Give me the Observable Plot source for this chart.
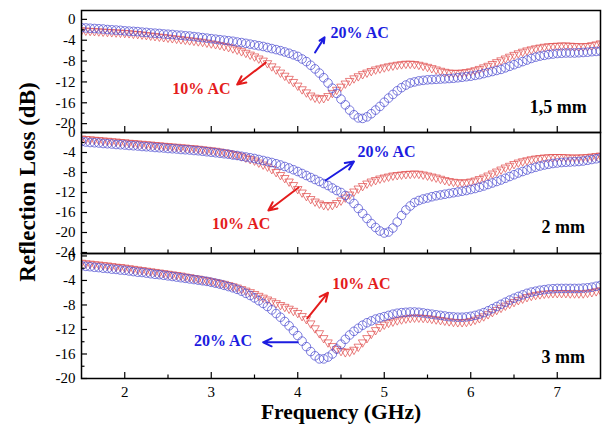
<!DOCTYPE html>
<html><head><meta charset="utf-8">
<script src="https://cdn.jsdelivr.net/npm/d3@7"></script>
<script src="https://cdn.jsdelivr.net/npm/@observablehq/plot@0.6"></script>
<style>
body{margin:0;background:#fff;}
#chart{position:relative;width:602px;height:435px;font-family:"Liberation Serif","Times New Roman",serif;}
#chart svg{position:absolute;left:0;overflow:visible;}
.ttl{position:absolute;font-weight:bold;font-size:21px;color:#000;white-space:nowrap;line-height:1;}
</style></head><body><div id="chart"></div>
<script>
// Frequency grid (GHz)
const freq = [
1.50,1.55,1.60,1.65,1.70,1.75,1.80,1.85,1.90,1.95,
2.00,2.05,2.10,2.15,2.20,2.25,2.30,2.35,2.40,2.45,
2.50,2.55,2.60,2.65,2.70,2.75,2.80,2.85,2.90,2.95,
3.00,3.05,3.10,3.15,3.20,3.25,3.30,3.35,3.40,3.45,
3.50,3.55,3.60,3.65,3.70,3.75,3.80,3.85,3.90,3.95,
4.00,4.05,4.10,4.15,4.20,4.25,4.30,4.35,4.40,4.45,
4.50,4.55,4.60,4.65,4.70,4.75,4.80,4.85,4.90,4.95,
5.00,5.05,5.10,5.15,5.20,5.25,5.30,5.35,5.40,5.45,
5.50,5.55,5.60,5.65,5.70,5.75,5.80,5.85,5.90,5.95,
6.00,6.05,6.10,6.15,6.20,6.25,6.30,6.35,6.40,6.45,
6.50,6.55,6.60,6.65,6.70,6.75,6.80,6.85,6.90,6.95,
7.00,7.05,7.10,7.15,7.20,7.25,7.30,7.35,7.40,7.45,
7.50];

// 1,5 mm
const rl15_20 = [
-1.6,-1.65,-1.7,-1.75,-1.8,-1.85,-1.95,-2.0,-2.05,-2.1,
-2.2,-2.25,-2.3,-2.35,-2.45,-2.5,-2.6,-2.65,-2.7,-2.8,
-2.85,-2.9,-3.0,-3.05,-3.15,-3.2,-3.3,-3.4,-3.5,-3.6,
-3.7,-3.8,-3.9,-4.0,-4.1,-4.2,-4.35,-4.45,-4.6,-4.75,
-4.9,-5.05,-5.2,-5.4,-5.6,-5.8,-6.0,-6.25,-6.5,-6.8,
-7.1,-7.6,-8.1,-8.8,-9.5,-10.3,-11.2,-12.2,-13.2,-14.2,
-15.3,-16.4,-17.4,-18.3,-18.9,-19.0,-18.7,-18.1,-17.4,-16.7,
-15.9,-15.1,-14.4,-13.7,-13.1,-12.6,-12.2,-12.0,-11.8,-11.7,
-11.6,-11.55,-11.5,-11.45,-11.4,-11.35,-11.3,-11.2,-11.1,-11.0,
-10.9,-10.75,-10.6,-10.4,-10.2,-10.0,-9.8,-9.6,-9.3,-9.0,
-8.7,-8.4,-8.1,-7.8,-7.5,-7.25,-7.05,-6.9,-6.75,-6.65,
-6.55,-6.5,-6.45,-6.45,-6.45,-6.4,-6.35,-6.3,-6.2,-6.15,
-6.1];
const rl15_10 = [
-2.1,-2.15,-2.2,-2.25,-2.3,-2.35,-2.4,-2.45,-2.5,-2.55,
-2.6,-2.65,-2.75,-2.8,-2.9,-3.0,-3.1,-3.2,-3.3,-3.4,
-3.5,-3.6,-3.7,-3.8,-3.9,-4.0,-4.1,-4.2,-4.3,-4.45,
-4.6,-4.75,-4.9,-5.1,-5.3,-5.55,-5.8,-6.1,-6.4,-6.75,
-7.1,-7.5,-7.9,-8.4,-9.0,-9.6,-10.2,-10.8,-11.4,-12.0,
-12.7,-13.4,-14.0,-14.6,-15.0,-15.2,-15.1,-14.7,-14.1,-13.5,
-12.9,-12.3,-11.8,-11.3,-10.9,-10.5,-10.2,-9.9,-9.6,-9.4,
-9.2,-9.0,-8.85,-8.7,-8.6,-8.5,-8.5,-8.55,-8.7,-8.9,
-9.1,-9.35,-9.6,-9.85,-10.05,-10.2,-10.25,-10.25,-10.2,-10.1,
-9.95,-9.75,-9.5,-9.2,-8.9,-8.55,-8.2,-7.85,-7.5,-7.15,
-6.8,-6.5,-6.2,-5.95,-5.75,-5.55,-5.4,-5.25,-5.15,-5.1,
-5.05,-5.0,-5.0,-5.05,-5.1,-5.15,-5.15,-5.1,-4.95,-4.8,
-4.6];

// 2 mm
const rl2_20 = [
-1.8,-1.9,-2.0,-2.05,-2.1,-2.2,-2.25,-2.3,-2.4,-2.45,
-2.5,-2.6,-2.65,-2.7,-2.8,-2.85,-2.9,-3.0,-3.05,-3.1,
-3.2,-3.25,-3.3,-3.4,-3.45,-3.5,-3.6,-3.65,-3.75,-3.85,
-3.95,-4.05,-4.15,-4.25,-4.35,-4.5,-4.6,-4.75,-4.9,-5.05,
-5.2,-5.4,-5.6,-5.8,-6.0,-6.25,-6.5,-6.8,-7.1,-7.45,
-7.8,-8.2,-8.6,-9.0,-9.4,-9.8,-10.2,-10.6,-11.1,-11.6,
-12.0,-12.6,-13.3,-14.2,-15.2,-16.2,-17.2,-18.2,-19.0,-19.7,
-20.1,-19.9,-19.1,-17.9,-16.6,-15.5,-14.7,-14.0,-13.6,-13.3,
-13.1,-12.85,-12.65,-12.5,-12.35,-12.2,-12.05,-11.9,-11.75,-11.6,
-11.4,-11.2,-10.95,-10.7,-10.4,-10.1,-9.8,-9.5,-9.15,-8.8,
-8.45,-8.1,-7.8,-7.5,-7.2,-6.95,-6.7,-6.5,-6.35,-6.2,
-6.1,-6.0,-5.95,-5.9,-5.85,-5.8,-5.7,-5.55,-5.4,-5.25,
-5.1];
const rl2_10 = [
-1.2,-1.3,-1.35,-1.45,-1.5,-1.6,-1.65,-1.75,-1.8,-1.9,
-1.95,-2.05,-2.1,-2.2,-2.25,-2.35,-2.4,-2.5,-2.55,-2.65,
-2.7,-2.8,-2.85,-2.95,-3.0,-3.1,-3.15,-3.25,-3.35,-3.45,
-3.55,-3.65,-3.8,-3.95,-4.1,-4.3,-4.5,-4.75,-5.0,-5.3,
-5.6,-6.0,-6.4,-6.8,-7.3,-7.9,-8.5,-9.1,-9.8,-10.5,
-11.3,-12.0,-12.7,-13.3,-13.8,-14.2,-14.5,-14.6,-14.5,-14.1,
-13.6,-13.0,-12.4,-11.8,-11.2,-10.7,-10.2,-9.8,-9.5,-9.2,
-9.0,-8.8,-8.6,-8.5,-8.4,-8.3,-8.25,-8.2,-8.25,-8.4,
-8.6,-8.8,-9.0,-9.25,-9.5,-9.7,-9.85,-9.95,-10.0,-9.95,
-9.8,-9.6,-9.3,-9.0,-8.6,-8.2,-7.8,-7.4,-7.0,-6.65,
-6.3,-6.0,-5.75,-5.55,-5.35,-5.2,-5.1,-5.0,-4.95,-4.9,
-4.9,-4.9,-4.95,-5.0,-5.0,-5.0,-4.95,-4.9,-4.8,-4.7,
-4.6];

// 3 mm
const rl3_20 = [
-1.6,-1.7,-1.75,-1.85,-1.9,-2.0,-2.05,-2.15,-2.2,-2.3,
-2.35,-2.45,-2.55,-2.65,-2.7,-2.8,-2.9,-3.0,-3.05,-3.15,
-3.25,-3.35,-3.45,-3.55,-3.65,-3.75,-3.85,-3.95,-4.05,-4.15,
-4.3,-4.45,-4.6,-4.8,-5.0,-5.2,-5.45,-5.75,-6.1,-6.45,
-6.85,-7.3,-7.75,-8.25,-8.8,-9.4,-10.0,-10.7,-11.4,-12.2,
-13.0,-13.9,-14.8,-15.6,-16.3,-16.8,-16.8,-16.5,-16.0,-15.2,
-14.4,-13.6,-12.9,-12.3,-11.8,-11.3,-10.9,-10.6,-10.3,-10.1,
-9.9,-9.7,-9.5,-9.35,-9.25,-9.2,-9.15,-9.15,-9.2,-9.3,
-9.4,-9.5,-9.6,-9.7,-9.8,-9.9,-9.95,-10.0,-10.0,-9.95,
-9.85,-9.7,-9.5,-9.25,-8.95,-8.6,-8.25,-7.9,-7.55,-7.2,
-6.9,-6.6,-6.35,-6.1,-5.9,-5.75,-5.6,-5.5,-5.4,-5.35,
-5.3,-5.3,-5.3,-5.3,-5.3,-5.3,-5.25,-5.2,-5.1,-4.95,
-4.8];
const rl3_10 = [
-1.1,-1.2,-1.25,-1.35,-1.4,-1.5,-1.55,-1.65,-1.75,-1.8,
-1.9,-2.0,-2.1,-2.2,-2.3,-2.4,-2.5,-2.6,-2.7,-2.8,
-2.9,-3.0,-3.1,-3.2,-3.35,-3.45,-3.6,-3.7,-3.85,-3.95,
-4.1,-4.25,-4.4,-4.55,-4.75,-4.95,-5.15,-5.4,-5.65,-5.9,
-6.2,-6.5,-6.8,-7.1,-7.4,-7.7,-8.0,-8.3,-8.6,-8.95,
-9.3,-9.8,-10.3,-11.0,-11.8,-12.6,-13.4,-14.1,-14.7,-15.2,
-15.5,-15.7,-15.6,-15.3,-14.8,-14.1,-13.4,-12.7,-12.1,-11.6,
-11.2,-10.9,-10.7,-10.5,-10.35,-10.2,-10.1,-10.05,-10.05,-10.1,
-10.15,-10.25,-10.35,-10.45,-10.55,-10.65,-10.75,-10.8,-10.8,-10.75,
-10.6,-10.4,-10.15,-9.85,-9.5,-9.15,-8.8,-8.45,-8.1,-7.8,
-7.5,-7.2,-6.95,-6.7,-6.5,-6.35,-6.25,-6.15,-6.1,-6.05,
-6.05,-6.05,-6.05,-6.1,-6.1,-6.1,-6.1,-6.0,-5.9,-5.75,
-5.6];

// Tick values
const xMajor = [2, 3, 4, 5, 6, 7];
const xMinor = [2.5, 3.5, 4.5, 5.5, 6.5];
const yMajor15 = [0, -4, -8, -12, -16, -20];
const yMinor15 = [-2, -6, -10, -14, -18];
const yMajor2 = [0, -4, -8, -12, -16, -20, -24];
const yMinor2 = [-2, -6, -10, -14, -18, -22];
const yMajor3 = [0, -4, -8, -12, -16, -20];
const yMinor3 = [-2, -6, -10, -14, -18];

// Annotations (data units): [panel 1,5 mm, 2 mm, 3 mm]
const thickLabels = ["1,5 mm", "2 mm", "3 mm"];
const thickX = [7.34, 7.32, 7.32];
const thickY = [-16.9, -19.0, -16.6];
const blueNoteX = [4.38, 4.69, 2.80];
const blueNoteY = [-2.5, -3.8, -13.8];
const redNoteX = [2.55, 3.01, 4.40];
const redNoteY = [-13.3, -18.2, -4.5];
const blueArrow = [[4.20, -6.35, 4.31, -3.46], [4.32, -9.6, 4.65, -5.8], [4.00, -14.1, 3.60, -14.1]];
const redArrow = [[3.63, -8.3, 3.30, -12.5], [4.01, -11.0, 3.66, -15.6], [4.11, -10.2, 4.35, -6.0]];

const BLUE_M = "#5050d2", RED_M = "#e04848";
const BLUE_T = "#1c1ce0", RED_T = "#e41c1c";

const triDown = {
  draw(ctx, size) {
    const a = Math.sqrt(size) * 1.2, h = a * Math.sqrt(3) / 2;
    ctx.moveTo(-a / 2, -h / 3);
    ctx.lineTo(a / 2, -h / 3);
    ctx.lineTo(0, 2 * h / 3);
    ctx.closePath();
  }
};

const panels = [
  {red: rl15_10, blue: rl15_20, dom: [-21.7, 1.7], maj: yMajor15, min: yMinor15, top: 0, height: 133, mt: 10, mb: 1},
  {red: rl2_10, blue: rl2_20, dom: [-24.2, 0], maj: yMajor2, min: yMinor2, top: 132, height: 122, mt: 0, mb: 1},
  {red: rl3_10, blue: rl3_20, dom: [-20, 0.4], maj: yMajor3, min: yMinor3, top: 253, height: 182, mt: 0, mb: 57}
];

const W = 602, ML = 81, MR = 2;
const chart = document.getElementById("chart");

panels.forEach((p, i) => {
  const innerH = p.height - p.mt - p.mb;
  const innerW = W - ML - MR;
  const redData = freq.map((f, k) => ({f, v: p.red[k]}));
  const blueData = freq.map((f, k) => ({f, v: p.blue[k]}));
  const arrows = [
    {x1: blueArrow[i][0], y1: blueArrow[i][1], x2: blueArrow[i][2], y2: blueArrow[i][3], c: BLUE_T},
    {x1: redArrow[i][0], y1: redArrow[i][1], x2: redArrow[i][2], y2: redArrow[i][3], c: RED_T}
  ];
  const notes = [
    {x: blueNoteX[i], y: blueNoteY[i], t: "20% AC", c: BLUE_T},
    {x: redNoteX[i], y: redNoteY[i], t: "10% AC", c: RED_T}
  ];
  const svg = Plot.plot({
    width: W,
    height: p.height,
    marginLeft: ML,
    marginRight: MR,
    marginTop: p.mt,
    marginBottom: p.mb,
    style: {fontFamily: "Liberation Serif, serif", fontSize: "15px", background: "transparent", overflow: "visible", color: "black"},
    x: {domain: [1.5, 7.5], axis: i === 2 ? "bottom" : null, ticks: xMajor, tickSize: 0, tickPadding: 8, tickFormat: d => String(d), label: null},
    y: {domain: p.dom, ticks: p.maj, tickSize: 0, tickPadding: 6, tickFormat: d => String(d), label: null},
    marks: [
      Plot.dot(redData, {x: "f", y: "v", symbol: triDown, r: 4, stroke: RED_M, strokeWidth: 0.7, fill: "none", clip: true}),
      Plot.dot(blueData, {x: "f", y: "v", symbol: "circle", r: 4.3, stroke: BLUE_M, strokeWidth: 0.75, fill: "none", clip: true}),
      Plot.tickX(xMajor, {x: d => d, insetTop: innerH - 6, stroke: "black", strokeWidth: 1.2}),
      Plot.tickX(xMinor, {x: d => d, insetTop: innerH - 3.5, stroke: "black", strokeWidth: 1.2}),
      Plot.tickY(p.maj, {y: d => d, insetRight: innerW - 6, stroke: "black", strokeWidth: 1.2}),
      Plot.tickY(p.min, {y: d => d, insetRight: innerW - 3.5, stroke: "black", strokeWidth: 1.2}),
      Plot.arrow(arrows, {x1: "x1", y1: "y1", x2: "x2", y2: "y2", stroke: d => d.c, strokeWidth: 2, headLength: 7, headAngle: 50}),
      Plot.text(notes, {x: "x", y: "y", text: "t", fill: d => d.c, fontWeight: "bold", fontSize: 16, textAnchor: "start"}),
      Plot.text([thickLabels[i]], {x: () => thickX[i], y: () => thickY[i], text: d => d, fill: "black", fontWeight: "bold", fontSize: 18, textAnchor: "end"}),
      Plot.frame({stroke: "black", strokeWidth: 1.5})
    ]
  });
  svg.style.top = p.top + "px";
  chart.appendChild(svg);
});

const xt = document.createElement("div");
xt.className = "ttl";
xt.textContent = "Frequency (GHz)";
xt.style.left = "341px"; xt.style.top = "413px";
xt.style.fontSize = "21.5px";
xt.style.transform = "translate(-50%,-50%)";
chart.appendChild(xt);

const yt = document.createElement("div");
yt.className = "ttl";
yt.textContent = "Reflection Loss (dB)";
yt.style.left = "27px"; yt.style.top = "182px";
yt.style.fontSize = "23px";
yt.style.transform = "translate(-50%,-50%) rotate(-90deg)";
chart.appendChild(yt);
</script>
</body></html>
